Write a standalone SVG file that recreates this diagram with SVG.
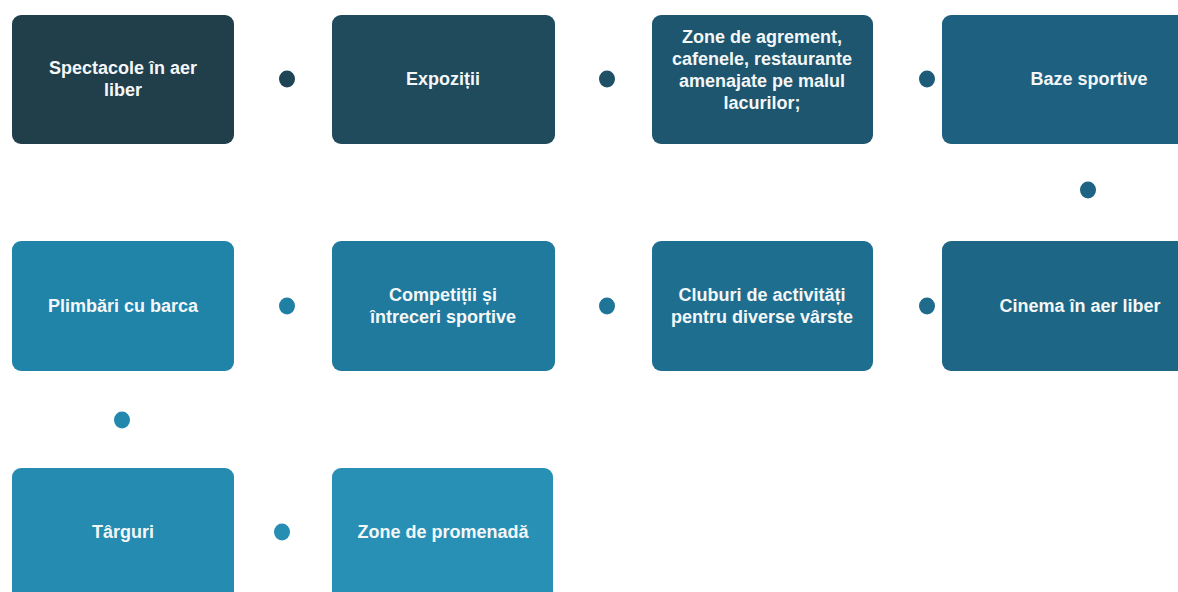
<svg xmlns="http://www.w3.org/2000/svg" width="1178" height="592" viewBox="0 0 1178 592">
<style>
.box{stroke:none}
.t{font-family:"Liberation Sans",Arial,sans-serif;font-weight:bold;font-size:18px;fill:#f4f7f8;text-anchor:middle}
</style>
<rect width="1178" height="592" fill="#ffffff"/>
<g id="connectors">
<ellipse cx="287" cy="79" rx="8" ry="8.5" fill="#1e4456"/>
<ellipse cx="607" cy="79" rx="8" ry="8.5" fill="#1e5066"/>
<ellipse cx="927" cy="79" rx="8" ry="8.5" fill="#1d5c78"/>
<ellipse cx="1088" cy="190" rx="8" ry="8.5" fill="#1e6383"/>
<ellipse cx="927" cy="306" rx="8" ry="8.5" fill="#1e6b8c"/>
<ellipse cx="607" cy="306" rx="8" ry="8.5" fill="#1f7498"/>
<ellipse cx="287" cy="306" rx="8" ry="8.5" fill="#2080a4"/>
<ellipse cx="122" cy="420" rx="8" ry="8.5" fill="#2388ad"/>
<ellipse cx="282" cy="532" rx="8" ry="8.5" fill="#268eb3"/>
</g>
<g id="n1"><rect class="box" x="12" y="15" width="222" height="129" rx="9" fill="#213f4b"/>
<text class="t" x="123" y="74">Spectacole în aer</text><text class="t" x="123" y="96">liber</text></g>
<g id="n2"><rect class="box" x="332" y="15" width="223" height="129" rx="9" fill="#1f4b5d"/>
<text class="t" x="443" y="85">Expoziții</text></g>
<g id="n3"><rect class="box" x="652" y="15" width="221" height="129" rx="9" fill="#1d566e"/>
<text class="t" x="762" y="43">Zone de agrement,</text><text class="t" x="762" y="65">cafenele, restaurante</text><text class="t" x="762" y="87">amenajate pe malul</text><text class="t" x="762" y="109">lacurilor;</text></g>
<g id="n4"><rect class="box" x="942" y="15" width="290" height="129" rx="9" fill="#1d6080"/>
<text class="t" x="1089" y="85">Baze sportive</text></g>
<g id="n5"><rect class="box" x="942" y="241" width="290" height="130" rx="9" fill="#1d6685"/>
<text class="t" x="1080" y="312">Cinema în aer liber</text></g>
<g id="n6"><rect class="box" x="652" y="241" width="221" height="130" rx="9" fill="#1e6e90"/>
<text class="t" x="762" y="301">Cluburi de activități</text><text class="t" x="762" y="323">pentru diverse vârste</text></g>
<g id="n7"><rect class="box" x="332" y="241" width="223" height="130" rx="9" fill="#1f7a9e"/>
<text class="t" x="443" y="301">Competiții și</text><text class="t" x="443" y="323">întreceri sportive</text></g>
<g id="n8"><rect class="box" x="12" y="241" width="222" height="130" rx="9" fill="#2083a8"/>
<text class="t" x="123" y="312">Plimbări cu barca</text></g>
<g id="n9"><rect class="box" x="12" y="468" width="222" height="140" rx="9" fill="#258bb0"/>
<text class="t" x="123" y="538">Târguri</text></g>
<g id="n10"><rect class="box" x="332" y="468" width="221" height="140" rx="9" fill="#2990b5"/>
<text class="t" x="443" y="538">Zone de promenadă</text></g>
</svg>
